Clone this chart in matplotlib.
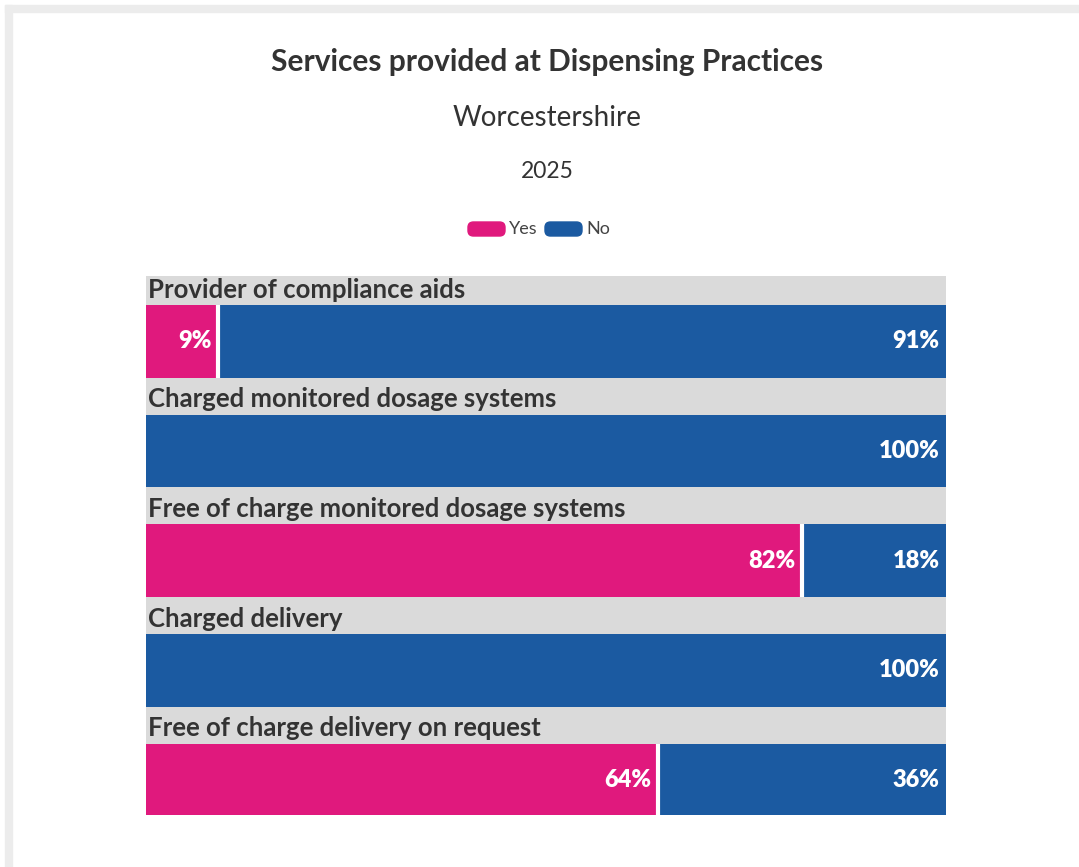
import matplotlib.pyplot as plt
from matplotlib.patches import FancyBboxPatch, Rectangle

categories = ["Provider of compliance aids", "Charged monitored dosage systems",
              "Free of charge monitored dosage systems", "Charged delivery",
              "Free of charge delivery on request"]
yes_pct = [9, 0, 82, 0, 64]
no_pct = [91, 100, 18, 100, 36]

PINK = "#e0197d"
BLUE = "#1b5aa1"
GREY = "#dadada"
TXT = "#333333"

plt.rcParams['font.family'] = ['Lato', 'DejaVu Sans']

W, H = 1079, 867
fig = plt.figure(figsize=(W / 100, H / 100), dpi=100)

# light frame around the card
fig.patches.append(Rectangle((5 / W, 1 - 12 / H), 1, 7 / H, transform=fig.transFigure,
                             color="#ececec", zorder=0))
fig.patches.append(Rectangle((5 / W, 0), 7 / W, 1 - 5 / H, transform=fig.transFigure,
                             color="#ececec", zorder=0))

fig.text(547 / W, 1 - 62 / H, "Services provided at Dispensing Practices",
         ha="center", va="center", fontsize=21.5, fontweight="bold", color=TXT)
fig.text(547 / W, 1 - 118 / H, "Worcestershire", ha="center", va="center",
         fontsize=20, color=TXT)
fig.text(547 / W, 1 - 171 / H, "2025", ha="center", va="center", fontsize=16.5, color=TXT)

# legend
for x0, col, lab in [(468, PINK, "Yes"), (545, BLUE, "No")]:
    fig.patches.append(FancyBboxPatch((x0 / W, 1 - 236 / H), 37 / W, 14 / H,
                                      boxstyle="round,pad=0,rounding_size=0.005",
                                      transform=fig.transFigure, color=col,
                                      mutation_aspect=W / H))
    fig.text((x0 + 41) / W, 1 - 229 / H, lab, ha="left", va="center",
             fontsize=13, color="#444444")

ax = fig.add_axes([146 / W, 1 - 815 / H, 800 / W, (815 - 276) / H])
ax.set_facecolor(GREY)
ypos = list(range(len(categories)))
bh = 0.664
ax.barh(ypos, yes_pct, height=bh, color=PINK, linewidth=0)
ax.barh(ypos, no_pct, left=yes_pct, height=bh, color=BLUE, linewidth=0)

# white separator between the two segments
for i in ypos:
    if 0 < yes_pct[i] < 100:
        ax.vlines(yes_pct[i], i - bh / 2, i + bh / 2, color="white", linewidth=3)

for i, cat in enumerate(categories):
    ax.text(0.2, i - bh / 2 - 0.03, cat, ha="left", va="bottom", fontsize=18.5,
            fontweight="bold", color=TXT)
    if yes_pct[i] > 0:
        ax.text(yes_pct[i] - 0.8, i, f"{yes_pct[i]}%", ha="right", va="center",
                fontsize=17, fontweight="heavy", color="white")
    if no_pct[i] > 0:
        ax.text(100 - 0.8, i, f"{no_pct[i]}%", ha="right", va="center",
                fontsize=17, fontweight="heavy", color="white")

ax.set_xlim(0, 100)
ax.set_ylim(len(categories) - 1 + 0.32, -0.596)
for s in ax.spines.values():
    s.set_visible(False)
ax.set_xticks([])
ax.set_yticks([])

fig.savefig("out.png", dpi=100)
